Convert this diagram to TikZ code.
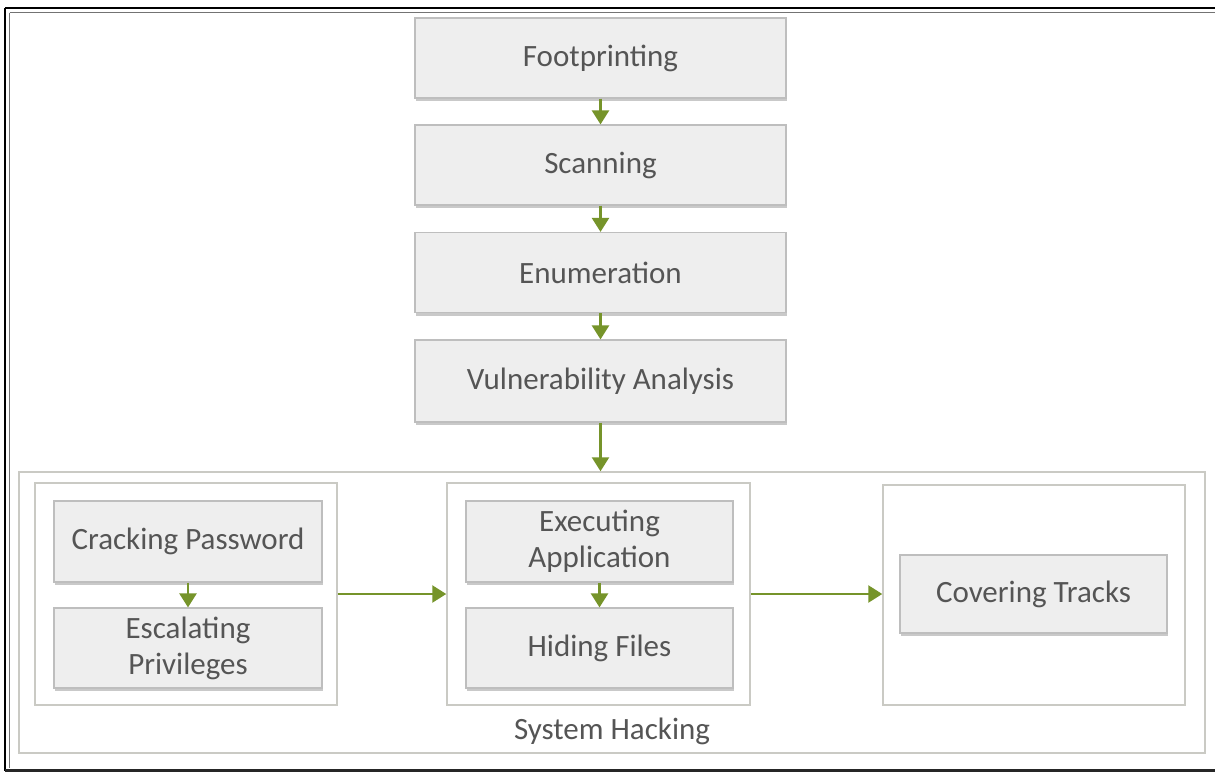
\documentclass[tikz,border=0pt]{standalone}
\usepackage{fontspec}
\setmainfont{Carlito}
\usetikzlibrary{arrows.meta,shadows}
\definecolor{arrowgreen}{HTML}{76942A}
\definecolor{boxfill}{HTML}{EEEEEE}
\definecolor{boxline}{HTML}{BEBEBE}
\definecolor{groupline}{HTML}{CACAC4}
\definecolor{txt}{HTML}{555555}
\tikzset{
  stepbox/.style={draw=boxline, line width=1.2pt, fill=boxfill, minimum width=#1, minimum height=80pt,
    inner sep=0pt, align=center, text=txt, font=\fontsize{31}{36}\selectfont,
    drop shadow={shadow xshift=1pt, shadow yshift=-3pt, opacity=0.35, fill=black!60}},
  stepbox/.default=371pt,
  groupbox/.style={draw=groupline, line width=1.5pt, fill=white, inner sep=0pt},
  flow/.style={draw=arrowgreen, line width=2.5pt, -{Triangle[width=17pt,length=14pt]}},
}
\begin{document}
\begin{tikzpicture}[x=1pt,y=-1pt]
\useasboundingbox (0,0) rectangle (1215,772);
\fill[white] (0,0) rectangle (1215,772);
% frame
\draw[black, line width=2.5pt] (5,8) -- (1216,8);
\draw[black, line width=2.5pt] (5,8) -- (5,770.5);
\draw[black!85, line width=3pt] (5,770.5) -- (1216,770.5);
\draw[black!55, line width=1.5pt] (9.5,12.5) -- (1216,12.5);
\draw[black!55, line width=1.5pt] (9.5,12.5) -- (9.5,768);

% top chain
\node[stepbox] (fp) at (600.5,58) {Footprinting};
\node[stepbox] (sc) at (600.5,165) {Scanning};
\node[stepbox] (en) at (600.5,272.5) {Enumeration};
\node[stepbox, minimum height=82pt] (va) at (600.5,381) {Vulnerability Analysis};

% system hacking
\node[groupbox, minimum width=1186pt, minimum height=281pt] (sh) at (612,612.5) {};
\node[text=txt, font=\fontsize{31}{36}\selectfont] (shl) at (612,731) {System Hacking};

\node[groupbox, minimum width=302pt, minimum height=222pt] (gl) at (186,594) {};
\node[groupbox, minimum width=303pt, minimum height=222pt] (gm) at (598.5,594) {};
\node[groupbox, minimum width=302pt, minimum height=220pt] (gr) at (1034,595) {};

\node[stepbox=268pt, minimum height=81pt] (cp) at (188,541.5) {Cracking Password};
\node[stepbox=268pt] (ep) at (188,648) {Escalating\\Privileges};
\node[stepbox=267pt, minimum height=81pt] (ea) at (599.5,541.5) {Executing\\Application};
\node[stepbox=267pt] (hf) at (599.5,648) {Hiding Files};
\node[stepbox=267pt, minimum height=78pt] (ct) at (1033.5,594) {Covering Tracks};

% connectors
\draw[flow] (fp) -- (sc);
\draw[flow] (sc) -- (en);
\draw[flow] (en) -- (va);
\draw[flow] (va.south) -- (va.south |- sh.north);
\draw[flow] (cp) -- (ep);
\draw[flow] (ea) -- (hf);
\draw[flow] (gl.east) -- (gm.west);
\draw[flow] (gm.east) -- (gm.east -| gr.west);
\end{tikzpicture}
\end{document}
